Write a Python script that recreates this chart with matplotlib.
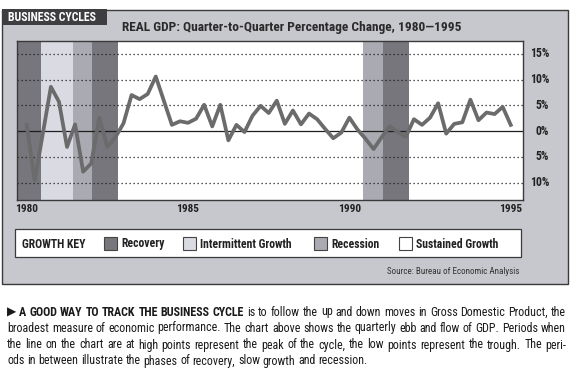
import numpy as np
import matplotlib
matplotlib.use("Agg")
import matplotlib.pyplot as plt
from matplotlib.patches import Rectangle
from matplotlib import font_manager

# quarterly real GDP change, 1980 Q1 .. 1995 Q1
gdp_change = [1.2, -9.6, -0.5, 8.6, 5.7, -3.1, 1.3, -7.9, -6.3, 2.6,
              -3.1, -1.2, 1.5, 7.0, 6.2, 7.2, 10.6, 5.9, 1.2, 1.9,
              1.6, 2.4, 5.1, 0.9, 5.1, -1.8, 1.2, -0.2, 3.0, 4.9,
              3.5, 5.9, 1.4, 4.0, 1.3, 3.4, 2.3, 0.4, -1.4, -0.3,
              2.6, 0.3, -1.5, -3.5, -1.2, 0.9, -0.2, -1.1, 2.3, 1.2,
              2.6, 5.4, -0.5, 1.4, 1.7, 6.1, 2.1, 3.6, 3.3, 4.7, 1.2]
start_year = 1980

band_start = [1979.6, 1980.44, 1981.43, 1982.02, 1990.42, 1991.05]
band_end = [1980.44, 1981.43, 1982.02, 1982.83, 1991.05, 1991.85]
band_phase = ["Recovery", "Intermittent Growth", "Recession", "Recovery",
              "Recession", "Recovery"]

phases = ["Recovery", "Intermittent Growth", "Recession", "Sustained Growth"]
phase_colors = ["#76767c", "#dadae3", "#aaaab2", "#ffffff"]

year_ticks = [1980, 1985, 1990, 1995]
pct_ticks = [15, 10, 5, 0, -5, -10]

title = "REAL GDP: Quarter-to-Quarter Percentage Change, 1980\u20141995"
paragraph = [
    [("\u25B6 A GOOD WAY TO TRACK THE BUSINESS CYCLE", "bold"),
     ("is to follow the up and down moves in Gross Domestic Product, the", "normal")],
    [("broadest measure of economic performance. The chart above shows the quarterly ebb and flow of GDP. Periods when", "normal")],
    [("the line on the chart are at high points represent the peak of the cycle, the low points represent the trough. The peri-", "normal")],
    [("ods in between illustrate the phases of recovery, slow growth and recession.", "normal")],
]

# pick a narrow face if one is installed, otherwise Roboto
names = {f.name for f in font_manager.fontManager.ttflist}
face = "Roboto"
for cand in ["Liberation Sans Narrow", "Roboto Condensed", "DejaVu Sans Condensed",
             "Open Sans Condensed"]:
    if cand in names:
        face = cand
        break
plt.rcParams["font.family"] = [face, "DejaVu Sans"]

W, H = 577, 378
def fx(px):
    return px / W
def fy(py):
    return 1 - py / H

fig = plt.figure(figsize=(W / 100, H / 100), dpi=100)
fig.patch.set_facecolor("white")
renderer = fig.canvas.get_renderer()

def measure(s, weight, size):
    t = fig.text(0, 0, s, fontsize=size, fontweight=weight)
    wd = t.get_window_extent(renderer).width
    t.remove()
    return wd

def fit(s, weight, size, target):
    return min(size, size * target / measure(s, weight, size))

# gray panel + header tab
fig.patches.append(Rectangle((fx(2), fy(284)), fx(568) - fx(2), fy(10) - fy(284),
                             transform=fig.transFigure, facecolor="#c7c7ce",
                             edgecolor="#3a3a3a", lw=1.0, zorder=-2))
fig.patches.append(Rectangle((fx(2), fy(25)), fx(107) - fx(2), fy(9) - fy(25),
                             transform=fig.transFigure, facecolor="#3e3e40",
                             edgecolor="none", zorder=-1))
fig.text(fx(8), fy(17.5), "BUSINESS CYCLES", color="white",
         fontsize=fit("BUSINESS CYCLES", "bold", 9.5, 89),
         fontweight="bold", va="center", ha="left")
fig.text(fx(122), fy(28), title, color="#2a2a2a",
         fontsize=fit(title, "bold", 10, 338), fontweight="bold",
         va="center", ha="left")

ax = fig.add_axes([fx(17), fy(200), fx(523) - fx(17), fy(41) - fy(200)])
ax.set_zorder(1)
ax.set_facecolor("white")
x = start_year + np.arange(len(gdp_change)) / 4
ax.set_xlim(1979.7, 1995.38)
ax.set_ylim(-13.4, 17.5)

for s, e, p in zip(band_start, band_end, band_phase):
    ax.axvspan(s, e, color=phase_colors[phases.index(p)], lw=0, zorder=1)

for v in pct_ticks:
    if v == 0:
        ax.axhline(v, color="#1e1e1e", lw=0.9, zorder=2)
    else:
        ax.axhline(v, color="#1e1e1e", lw=0.9, ls=(0, (1, 2.2)), zorder=2)
    ax.text(1.0514, v, f"{abs(v)}%", transform=ax.get_yaxis_transform(),
            ha="right", va="center", fontsize=fit("15%", "bold", 8.5, 21),
            fontweight="bold", color="#222")

ax.plot(x, gdp_change, color="#6b6b6b", lw=2.7, zorder=3)

ax.set_xticks(year_ticks)
ax.set_xticklabels([str(y) for y in year_ticks], fontweight="bold",
                   fontsize=fit("1980", "bold", 8.5, 23), color="#222")
ax.tick_params(axis="x", length=0, pad=3)
ax.set_yticks([])
for sp in ax.spines.values():
    sp.set_color("#3a3a3a")
    sp.set_linewidth(1.0)
    sp.set_zorder(4)

# growth key
fig.patches.append(Rectangle((fx(15), fy(257)), fx(521) - fx(15), fy(229) - fy(257),
                             transform=fig.transFigure, facecolor="white",
                             edgecolor="#3a3a3a", lw=0.9, zorder=1))
key_size = fit("Intermittent Growth", "bold", 8.5, 98)
fig.text(fx(22), fy(244), "GROWTH KEY", fontsize=key_size, fontweight="bold",
         va="center", ha="left", color="#222")
key_x = [104, 183, 314, 399]
for kx, p, c in zip(key_x, phases, phase_colors):
    fig.patches.append(Rectangle((fx(kx), fy(250)), fx(13), fy(237) - fy(250),
                                 transform=fig.transFigure, facecolor=c,
                                 edgecolor="#444", lw=0.8, zorder=2))
    fig.text(fx(kx + 17), fy(244), p, fontsize=key_size, fontweight="bold",
             va="center", ha="left", color="#222")

fig.text(fx(519), fy(272), "Source: Bureau of Economic Analysis",
         fontsize=fit("Source: Bureau of Economic Analysis", "normal", 6.5, 132),
         va="center", ha="right", color="#333")

# justified paragraph below the panel
left, right = 7, 566
size = 10
for parts in paragraph[:-1]:
    natural = measure(" ".join(t for t, _ in parts), "normal", size)
    natural += sum(measure(t, "bold", size) - measure(t, "normal", size)
                   for t, wt in parts if wt == "bold")
    size = min(size, size * (right - left) / natural)

line_y = [312, 328, 345, 361]
natural_gap = measure("a a", "normal", size) - 2 * measure("a", "normal", size)
for i, (parts, ly) in enumerate(zip(paragraph, line_y)):
    words = [(w, wt) for txt, wt in parts for w in txt.split(" ")]
    widths = [measure(w, wt, size) for w, wt in words]
    if i == len(paragraph) - 1:
        gap = natural_gap
    else:
        gap = (right - left - sum(widths)) / (len(words) - 1)
    xpos = left
    for (w, wt), wd in zip(words, widths):
        fig.text(fx(xpos), fy(ly), w, fontsize=size, fontweight=wt,
                 va="center", ha="left", color="#1a1a1a")
        xpos += wd + gap

fig.savefig("out.png", dpi=100)
